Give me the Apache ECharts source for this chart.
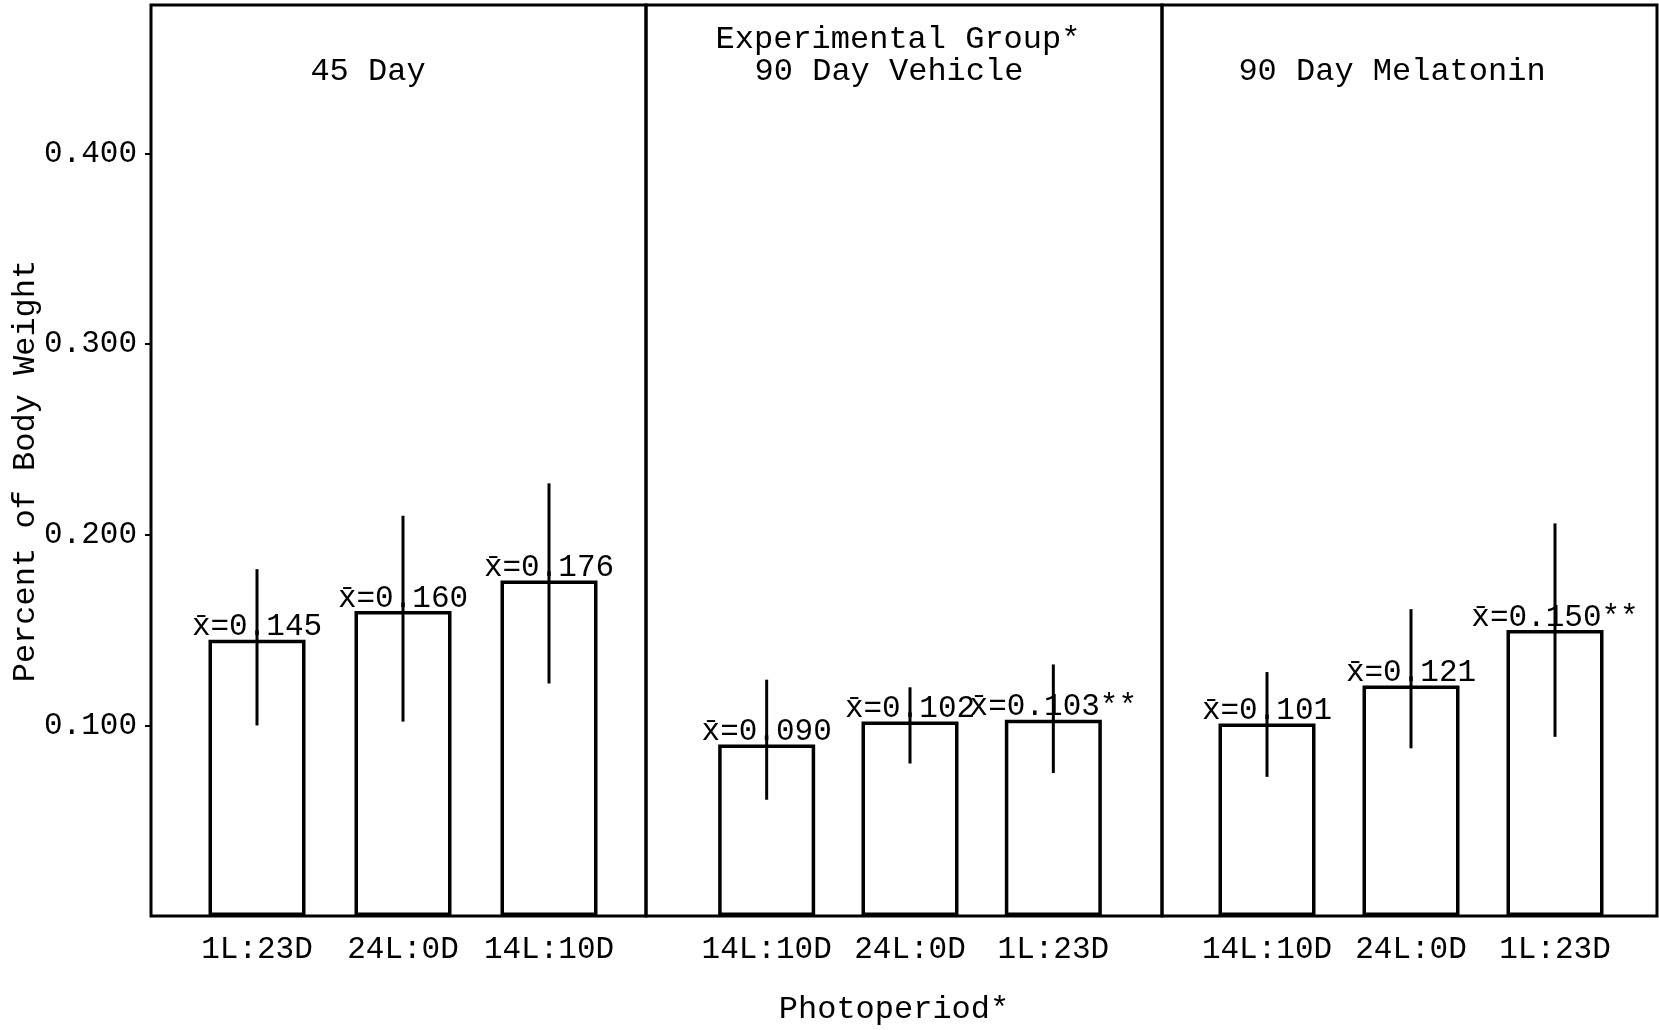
<!DOCTYPE html>
<html>
<head>
<meta charset="utf-8">
<script src="https://cdn.jsdelivr.net/npm/echarts@6/dist/echarts.min.js"></script>
<style>html,body{margin:0;padding:0;background:#fff}#c{width:1659px;height:1030px}</style>
</head>
<body>
<div id="c"></div>
<script>
// ---- data ----
const panelTitles = ['45 Day', '90 Day Vehicle', '90 Day Melatonin'];
const groupTitle = 'Experimental Group*';
const cats45 = ['1L:23D', '24L:0D', '14L:10D'];
const catsVeh = ['14L:10D', '24L:0D', '1L:23D'];
const catsMel = ['14L:10D', '24L:0D', '1L:23D'];
const mean45 = [0.145, 0.160, 0.176];
const meanVeh = [0.090, 0.102, 0.103];
const meanMel = [0.101, 0.121, 0.150];
const low45 = [0.100, 0.102, 0.122];
const high45 = [0.182, 0.210, 0.227];
const lowVeh = [0.061, 0.080, 0.075];
const highVeh = [0.124, 0.120, 0.132];
const lowMel = [0.073, 0.088, 0.094];
const highMel = [0.128, 0.161, 0.206];
const mark45 = ['', '', ''];
const markVeh = ['', '', '**'];
const markMel = ['', '', '**'];
const yTicks = [0.1, 0.2, 0.3, 0.4];
const yMax = 0.478;
const yTitle = 'Percent of Body Weight';
const xTitle = 'Photoperiod*';

// ---- layout ----
const FONT = '"Liberation Mono", "DejaVu Sans Mono", monospace';
const TOP = 5, BOTTOM = 114;
const frames = [[151, 646], [646, 1162], [1162, 1657]];
const barGrids = [[184, 438], [695, 430], [1195, 432]];
const cats = [cats45, catsVeh, catsMel];
const means = [mean45, meanVeh, meanMel];
const lows = [low45, lowVeh, lowMel];
const highs = [high45, highVeh, highMel];
const marks = [mark45, markVeh, markMel];

const grid = [], xAxis = [], yAxis = [], series = [];
frames.forEach((f, i) => {
  grid.push({left: f[0], top: TOP, width: f[1] - f[0], bottom: BOTTOM, show: true,
    borderColor: '#000', borderWidth: 3, backgroundColor: 'transparent'});
  xAxis.push({type: 'value', gridIndex: i, show: false, min: 0, max: 1});
  yAxis.push({type: 'value', gridIndex: i, min: 0, max: yMax, interval: 0.1,
    show: i === 0,
    axisLine: {show: false},
    axisTick: {show: true, inside: false, length: 6, lineStyle: {color: '#000', width: 2}, customValues: yTicks},
    axisLabel: {show: true, margin: 14, color: '#000', fontFamily: FONT, fontSize: 31,
      customValues: yTicks, formatter: v => v.toFixed(3)},
    splitLine: {show: false}});
});
barGrids.forEach((b, k) => {
  const gi = 3 + k;
  grid.push({left: b[0], top: TOP, width: b[1], bottom: BOTTOM, show: false});
  xAxis.push({type: 'category', gridIndex: gi, data: cats[k],
    axisLine: {show: false}, axisTick: {show: false},
    axisLabel: {interval: 0, hideOverlap: false, color: '#000', fontFamily: FONT, fontSize: 31, margin: 18}});
  yAxis.push({type: 'value', gridIndex: gi, min: 0, max: yMax, show: false, splitLine: {show: false}});
  series.push({type: 'bar', xAxisIndex: gi, yAxisIndex: gi, barWidth: 97,
    data: means[k],
    itemStyle: {color: '#fff', borderColor: '#000', borderWidth: 3.5},
    label: {show: true, position: 'top', distance: -3, color: '#000', fontFamily: FONT, fontSize: 31,
      formatter: p => 'x\u0304=' + p.value.toFixed(3) + marks[k][p.dataIndex]},
    z: 2});
  series.push({type: 'custom', xAxisIndex: gi, yAxisIndex: gi, z: 3,
    data: cats[k].map((c, j) => [j, lows[k][j], highs[k][j]]),
    renderItem: (params, api) => {
      const a = api.coord([api.value(0), api.value(1)]);
      const b2 = api.coord([api.value(0), api.value(2)]);
      return {type: 'line', shape: {x1: a[0], y1: a[1], x2: b2[0], y2: b2[1]},
        style: {stroke: '#000', lineWidth: 3}};
    }});
});

const txt = (text, x, y, size, rot) => ({type: 'text', x: x, y: y, rotation: rot || 0,
  style: {text: text, fill: '#000', font: size + 'px ' + FONT, textAlign: 'center', textVerticalAlign: 'middle'}});

const chart = echarts.init(document.getElementById('c'));
chart.setOption({
  animation: false,
  backgroundColor: '#fff',
  grid: grid, xAxis: xAxis, yAxis: yAxis, series: series,
  graphic: [
    txt(panelTitles[0], 368, 72, 32),
    txt(groupTitle, 898, 40, 32),
    txt(panelTitles[1], 889, 72, 32),
    txt(panelTitles[2], 1392, 72, 32),
    txt(yTitle, 26, 471, 32, Math.PI / 2),
    txt(xTitle, 894, 1010, 32)
  ]
});
</script>
</body>
</html>
